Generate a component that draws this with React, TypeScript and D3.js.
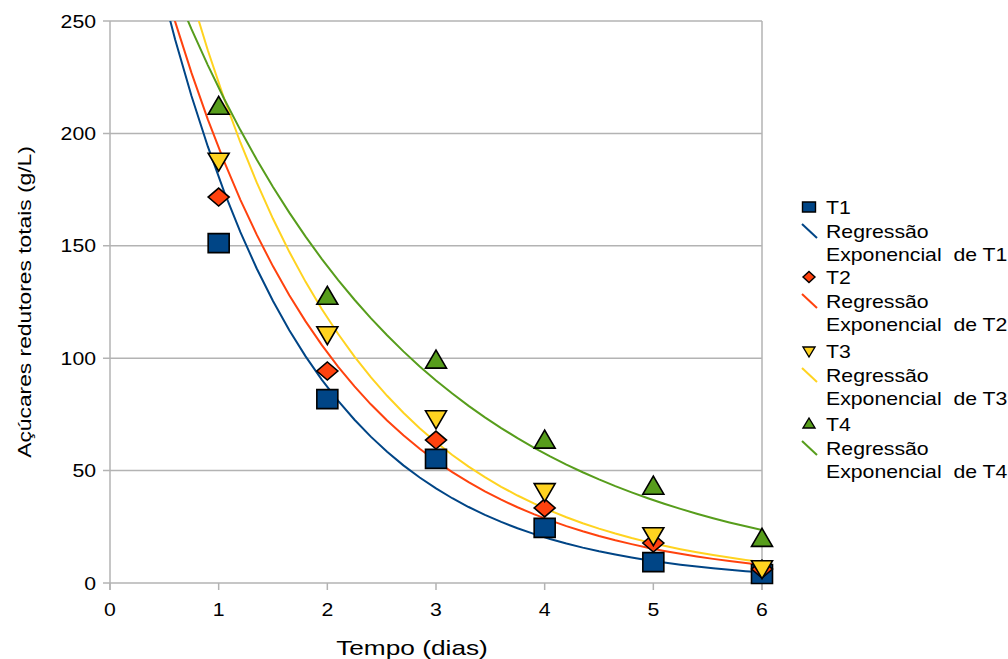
import React from "react";
import * as d3 from "d3";

const days = [1, 2, 3, 4, 5, 6];
const t1 = [151.2, 81.8, 55.2, 24.5, 9.3, 4.0];
const t2 = [171.7, 94.3, 63.6, 33.4, 17.8, 6.2];
const t3 = [188.0, 110.8, 73.4, 41.0, 21.4, 6.7];
const t4 = [211.7, 127.2, 98.8, 63.2, 42.7, 19.5];
const seriesNames = ["T1", "T2", "T3", "T4"];
const seriesColors = ["#004586", "#ff420e", "#ffd320", "#579d1c"];
const markerTypes = ["square", "diamond", "down", "up"];
const yTicks = [0, 50, 100, 150, 200, 250];
const xTicks = [0, 1, 2, 3, 4, 5, 6];

const W = 1008, H = 659;
const left = 110, right = 762, top = 21, bottom = 583;
const SX = 1.18;
const FONT = "'Liberation Sans', Arial, sans-serif";

function expFit(xs: number[], ys: number[]) {
  const ly = ys.map((v) => Math.log(v));
  const mx = d3.mean(xs)!;
  const my = d3.mean(ly)!;
  let sxy = 0, sxx = 0;
  xs.forEach((x, i) => {
    sxy += (x - mx) * (ly[i] - my);
    sxx += (x - mx) * (x - mx);
  });
  const b = sxy / sxx;
  const a = Math.exp(my - b * mx);
  return (x: number) => a * Math.exp(b * x);
}

function Marker({ type, cx, cy, w, h, color, sw = 1.6 }: { type: string; cx: number; cy: number; w: number; h: number; color: string; sw?: number }) {
  const a = w / 2, b = h / 2;
  let d = "";
  if (type === "square") d = `M${cx - a},${cy - b}h${w}v${h}h${-w}Z`;
  else if (type === "diamond") d = `M${cx},${cy - b}L${cx + a},${cy}L${cx},${cy + b}L${cx - a},${cy}Z`;
  else if (type === "down") d = `M${cx - a},${cy - b * 0.8}L${cx + a},${cy - b * 0.8}L${cx},${cy + b * 1.2}Z`;
  else d = `M${cx - a},${cy + b * 0.8}L${cx + a},${cy + b * 0.8}L${cx},${cy - b * 1.2}Z`;
  return <path d={d} fill={color} stroke="#000" strokeWidth={sw} strokeLinejoin="miter" />;
}

function SText({ x, y, children, anchor = "start", size = 18, rotate = 0, sx = SX }: any) {
  return (
    <text
      transform={`translate(${x},${y}) rotate(${rotate}) scale(${sx},1)`}
      textAnchor={anchor}
      fontSize={size}
      fontFamily={FONT}
      fill="#000"
    >
      {children}
    </text>
  );
}

export default function App() {
  const x = d3.scaleLinear().domain([0, 6]).range([left, right]);
  const y = d3.scaleLinear().domain([0, 250]).range([bottom, top]);
  const all = [t1, t2, t3, t4];
  const samples = d3.range(0, 6.0001, 0.15);
  const line = d3.line<[number, number]>().x((d) => x(d[0])).y((d) => y(d[1]));
  const mw = [21, 21, 21, 21];
  const mh = [19, 18, 18, 18];
  const lw = [13, 12, 12, 12];
  const lh = [10, 11, 10, 10];

  const legendRows = [207, 277, 351, 424];

  return (
    <svg width={W} height={H} style={{ position: "absolute", left: 0, top: 0 }}>
      <rect width={W} height={H} fill="#fff" />
      <defs>
        <clipPath id="plot">
          <rect x={left} y={top} width={right - left} height={bottom - top} />
        </clipPath>
      </defs>
      {yTicks.map((t) => (
        <line key={t} x1={left - 7} x2={right} y1={y(t)} y2={y(t)} stroke="#b3b3b3" strokeWidth={1.5} />
      ))}
      <line x1={left} x2={left} y1={top} y2={bottom + 7} stroke="#b3b3b3" strokeWidth={1.5} />
      <line x1={right} x2={right} y1={top} y2={bottom + 7} stroke="#b3b3b3" strokeWidth={1.5} />
      {xTicks.map((t) => (
        <line key={t} x1={x(t)} x2={x(t)} y1={bottom} y2={bottom + 7} stroke="#b3b3b3" strokeWidth={1.5} />
      ))}
      {yTicks.map((t) => (
        <SText key={t} x={96} y={y(t) + 6.5} anchor="end">{t}</SText>
      ))}
      {xTicks.map((t) => (
        <SText key={t} x={x(t)} y={616} anchor="middle">{t}</SText>
      ))}
      <SText x={412} y={655} anchor="middle" size={21} sx={1.25}>Tempo (dias)</SText>
      <SText x={31} y={302} anchor="middle" rotate={-90} size={19} sx={1.2}>Açúcares redutores totais (g/L)</SText>

      <g clipPath="url(#plot)">
        {all.map((vals, i) => {
          const f = expFit(days, vals);
          const pts = samples.map((s) => [s, f(s)] as [number, number]);
          return <path key={i} d={line(pts)!} fill="none" stroke={seriesColors[i]} strokeWidth={2} />;
        })}
      </g>
      {all.map((vals, i) =>
        vals.map((v, j) => (
          <Marker key={`${i}-${j}`} type={markerTypes[i]} cx={x(days[j])} cy={y(v)} w={mw[i]} h={mh[i]} color={seriesColors[i]} />
        ))
      )}

      {seriesNames.map((n, i) => {
        const ry = legendRows[i];
        return (
          <g key={n}>
            <Marker type={markerTypes[i]} cx={809} cy={ry} w={lw[i]} h={lh[i]} color={seriesColors[i]} sw={1.4} />
            <SText x={826} y={ry + 6.5}>{n}</SText>
            <line x1={802} y1={ry + 17} x2={817} y2={ry + 31} stroke={seriesColors[i]} strokeWidth={2} />
            <SText x={826} y={ry + 31}>Regressão</SText>
            <SText x={826} y={ry + 54}>{`Exponencial\u00a0 de ${n}`}</SText>
          </g>
        );
      })}
    </svg>
  );
}
